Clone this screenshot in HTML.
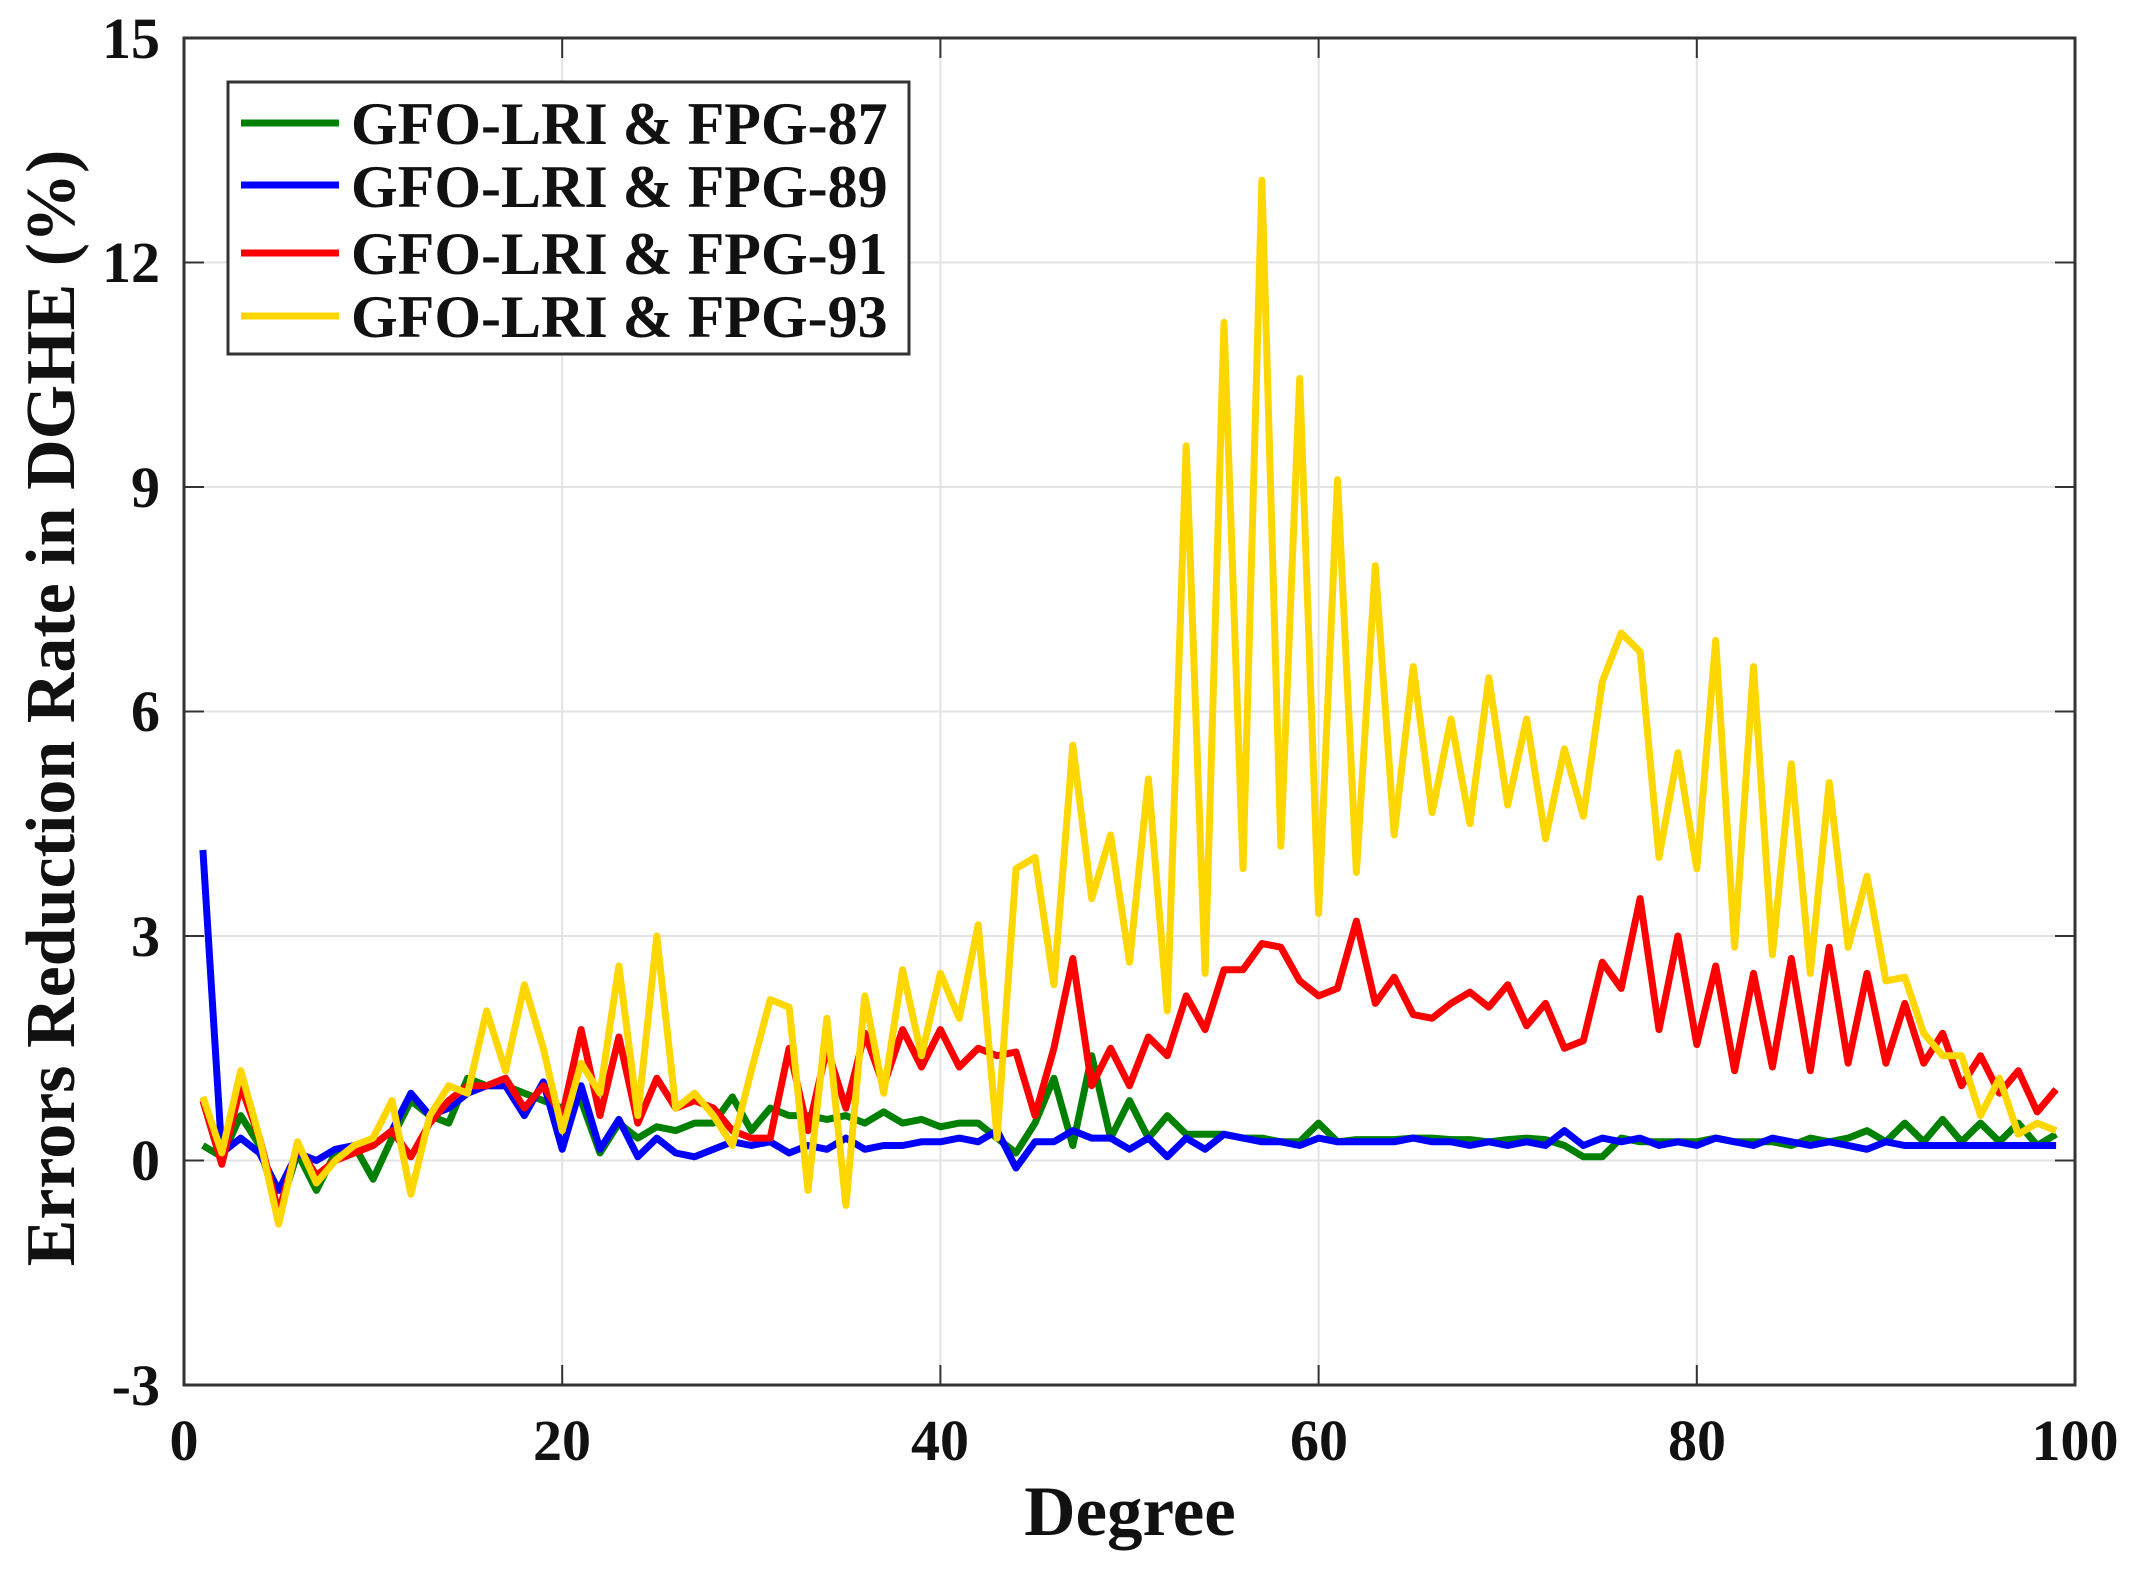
<!DOCTYPE html>
<html><head><meta charset="utf-8"><style>
html,body{margin:0;padding:0;background:#fff;}
svg{display:block;}
text{font-family:"Liberation Serif",serif;font-weight:bold;fill:#111;}
</style></head><body>
<svg id="s" width="2136" height="1574" viewBox="0 0 2136 1574" xmlns="http://www.w3.org/2000/svg">
<g id="grid" stroke="#e3e3e3" stroke-width="2"></g>
<g id="series" fill="none" stroke-width="7" stroke-linejoin="round"></g>
<rect x="184" y="38" width="1891" height="1347" fill="none" stroke="#333" stroke-width="3"/>
<g id="ticks" stroke="#333" stroke-width="2"></g>
<g font-size="58" text-anchor="end">
<text x="160" y="58">15</text><text x="160" y="282">12</text><text x="160" y="507">9</text>
<text x="160" y="731">6</text><text x="160" y="956">3</text><text x="160" y="1180">0</text><text x="160" y="1405">-3</text>
</g>
<g font-size="58" text-anchor="middle">
<text x="184" y="1460">0</text><text x="562" y="1460">20</text><text x="940" y="1460">40</text>
<text x="1319" y="1460">60</text><text x="1697" y="1460">80</text><text x="2075" y="1460">100</text>
</g>
<text x="1130" y="1535" font-size="71" text-anchor="middle">Degree</text>
<text transform="translate(74,708) rotate(-90)" font-size="70" text-anchor="middle">Errors Reduction Rate in DGHE  (%)</text>
<rect x="228" y="82" width="681" height="272" fill="#fff" stroke="#333" stroke-width="3"/>
<g stroke-width="7">
<line x1="241" y1="123" x2="339" y2="123" stroke="#008000"/>
<line x1="241" y1="185" x2="339" y2="185" stroke="#0000ff"/>
<line x1="241" y1="253" x2="339" y2="253" stroke="#ff0000"/>
<line x1="241" y1="316" x2="339" y2="316" stroke="#ffd700"/>
</g>
<g font-size="60">
<text x="351" y="144">GFO-LRI &amp; FPG-87</text>
<text x="351" y="207">GFO-LRI &amp; FPG-89</text>
<text x="351" y="274">GFO-LRI &amp; FPG-91</text>
<text x="351" y="337">GFO-LRI &amp; FPG-93</text>
</g>
</svg>
<script>
var NS="http://www.w3.org/2000/svg";
function X(d){return 184+d*18.91;}
function Y(v){return 1385-(v+3)*74.83;}
var g=document.getElementById('grid'),t=document.getElementById('ticks');
function ln(p,a,b,c,d){var l=document.createElementNS(NS,'line');l.setAttribute('x1',a);l.setAttribute('y1',b);l.setAttribute('x2',c);l.setAttribute('y2',d);p.appendChild(l);}
for(var d=20;d<100;d+=20){ln(g,X(d),38,X(d),1385);ln(t,X(d),1385,X(d),1365);ln(t,X(d),38,X(d),58);}
for(var v=0;v<15;v+=3){ln(g,184,Y(v),2075,Y(v));ln(t,184,Y(v),204,Y(v));ln(t,2075,Y(v),2055,Y(v));}
var G=[0.2,0.05,0.6,0.2,-0.7,0.1,-0.4,0.1,0.2,-0.25,0.3,0.8,0.6,0.5,1.1,1.0,1.0,0.9,0.8,0.7,0.8,0.1,0.5,0.3,0.45,0.4,0.5,0.5,0.85,0.4,0.7,0.6,0.6,0.55,0.6,0.5,0.65,0.5,0.55,0.45,0.5,0.5,0.3,0.1,0.5,1.1,0.2,1.4,0.3,0.8,0.3,0.6,0.35,0.35,0.35,0.3,0.3,0.25,0.25,0.5,0.25,0.28,0.28,0.28,0.3,0.3,0.28,0.28,0.25,0.28,0.3,0.28,0.2,0.05,0.05,0.3,0.25,0.25,0.25,0.25,0.3,0.25,0.25,0.25,0.2,0.3,0.25,0.3,0.4,0.25,0.5,0.25,0.55,0.25,0.5,0.25,0.5,0.2,0.35];
var B=[4.15,0.1,0.3,0.1,-0.4,0.1,0.0,0.15,0.2,0.2,0.4,0.9,0.6,0.7,0.9,1.0,1.0,0.6,1.05,0.15,1.0,0.15,0.55,0.05,0.3,0.1,0.05,0.15,0.25,0.2,0.25,0.1,0.2,0.15,0.3,0.15,0.2,0.2,0.25,0.25,0.3,0.25,0.4,-0.1,0.25,0.25,0.4,0.3,0.3,0.15,0.3,0.05,0.3,0.15,0.35,0.3,0.25,0.25,0.2,0.3,0.25,0.25,0.25,0.25,0.3,0.25,0.25,0.2,0.25,0.2,0.25,0.2,0.4,0.2,0.3,0.25,0.3,0.2,0.25,0.2,0.3,0.25,0.2,0.3,0.25,0.2,0.25,0.2,0.15,0.25,0.2,0.2,0.2,0.2,0.2,0.2,0.2,0.2,0.2];
var R=[0.8,-0.05,1.0,0.3,-0.7,0.2,-0.2,0.0,0.1,0.2,0.4,0.05,0.5,0.8,1.0,1.0,1.1,0.7,1.0,0.6,1.75,0.6,1.65,0.5,1.1,0.7,0.8,0.7,0.4,0.3,0.3,1.5,0.4,1.5,0.7,1.7,1.0,1.75,1.25,1.75,1.25,1.5,1.4,1.45,0.6,1.5,2.7,1.0,1.5,1.0,1.65,1.4,2.2,1.75,2.55,2.55,2.9,2.85,2.4,2.2,2.3,3.2,2.1,2.45,1.95,1.9,2.1,2.25,2.05,2.35,1.8,2.1,1.5,1.6,2.65,2.3,3.5,1.75,3.0,1.55,2.6,1.2,2.5,1.25,2.7,1.2,2.85,1.3,2.5,1.3,2.1,1.3,1.7,1.0,1.4,0.9,1.2,0.65,0.95];
var Yl=[0.85,0.1,1.2,0.3,-0.85,0.25,-0.3,0.0,0.2,0.3,0.8,-0.45,0.6,1.0,0.9,2.0,1.2,2.35,1.5,0.4,1.3,0.9,2.6,0.6,3.0,0.7,0.9,0.6,0.2,1.2,2.15,2.05,-0.4,1.9,-0.6,2.2,0.9,2.55,1.4,2.5,1.9,3.15,0.3,3.9,4.05,2.35,5.55,3.5,4.35,2.65,5.1,2.0,9.55,2.5,11.2,3.9,13.1,4.2,10.45,3.3,9.1,3.85,7.95,4.35,6.6,4.65,5.9,4.5,6.45,4.75,5.9,4.3,5.5,4.6,6.4,7.05,6.8,4.05,5.45,3.9,6.95,2.85,6.6,2.75,5.3,2.5,5.05,2.85,3.8,2.4,2.45,1.7,1.4,1.4,0.6,1.1,0.35,0.5,0.4];
var S=document.getElementById('series');
[[G,'#008000'],[B,'#0000ff'],[R,'#ff0000'],[Yl,'#ffd700']].forEach(function(a){
 var p=document.createElementNS(NS,'polyline');
 p.setAttribute('points',a[0].map(function(v,i){return X(i+1).toFixed(1)+','+Y(v).toFixed(1);}).join(' '));
 p.setAttribute('stroke',a[1]);S.appendChild(p);});
</script>
</body></html>
